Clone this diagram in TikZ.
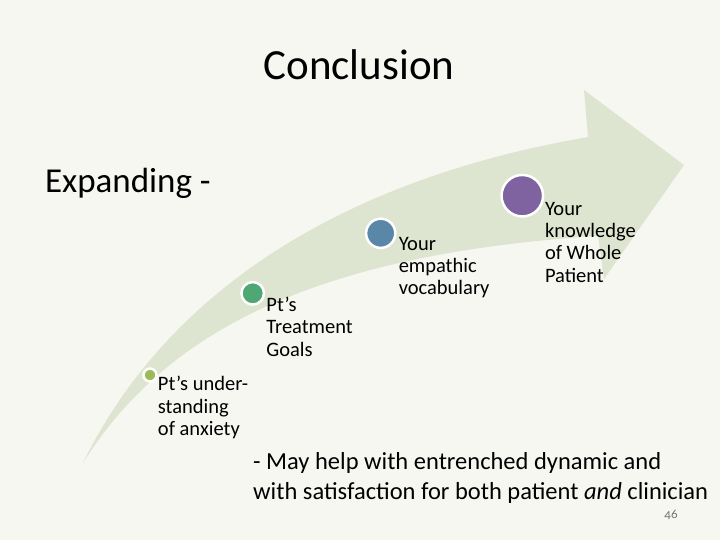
\documentclass[tikz,border=0pt]{standalone}
\usepackage{fontspec}
\setmainfont{Carlito}
\usepackage{xcolor}
\usepackage{tikz}

\definecolor{slidebg}{HTML}{F7F7F2}
\definecolor{bandgreen}{HTML}{DDE5D0}
\definecolor{dotlime}{HTML}{9BBB59}
\definecolor{dotgreen}{HTML}{4FA874}
\definecolor{dotblue}{HTML}{5A86A8}
\definecolor{dotpurple}{HTML}{7F62A0}

\tikzset{
  dot/.style={circle, draw=white, line width=2.5pt, inner sep=0pt},
  lbl/.style={anchor=north west, align=left, inner sep=0pt,
    font=\fontsize{20.5}{22.3}\selectfont}
}

\begin{document}
\begin{tikzpicture}[x=1pt, y=-1pt]
    % Slide
    \useasboundingbox (0,0) rectangle (720,540);
    \fill[slidebg] (0,0) rectangle (720,540);

    % Curved arrow
    \fill[bandgreen] (83,463) .. controls (155,315) and (310,185) .. (588,137)
        -- (584,90) -- (684,165) -- (604,279) -- (598,236)
        .. controls (300,255) and (160,340) .. (83,463) -- cycle;

    % Title
    \node[anchor=base, font=\fontsize{43}{50}\selectfont] (title) at (359,80) {Conclusion};
    \node[anchor=base west, font=\fontsize{35}{42}\selectfont] (expand) at (41.5,192.7) {Expanding -};

    % Dots on the arrow
    \node[dot, fill=dotlime, minimum size=13pt] (d1) at (150,375) {};
    \node[dot, fill=dotgreen, minimum size=22.5pt] (d2) at (252.7,293.3) {};
    \node[dot, fill=dotblue, minimum size=29.2pt] (d3) at (380.7,233.3) {};
    \node[dot, fill=dotpurple, minimum size=41.5pt] (d4) at (522.3,195.7) {};

    % Labels
    \node[lbl] (l1) at ([xshift=0pt, yshift=-1.3pt]d1.east) {Pt’s under-\\standing\\of anxiety};
    \node[lbl] (l2) at ([xshift=1pt, yshift=-3.7pt]d2.east) {Pt’s\\Treatment\\Goals};
    \node[lbl] (l3) at ([xshift=2pt, yshift=-3.7pt]d3.east) {Your\\empathic\\vocabulary};
    \node[lbl] (l4) at ([xshift=0.5pt, yshift=-6.3pt]d4.east) {Your\\knowledge\\of Whole\\Patient};

    % Bottom note
    \node[anchor=north west, align=left, inner sep=0pt, font=\fontsize{24.5}{30}\selectfont] (note) at (253,452.5)
        {- May help with entrenched dynamic and\\with satisfaction for both patient \textit{and} clinician};

    % Page number
    \node[gray!90!black, font=\fontsize{13}{15}\selectfont] (page) at (671,515) {\addfontfeatures{Numbers=OldStyle}46};
\end{tikzpicture}
\end{document}
